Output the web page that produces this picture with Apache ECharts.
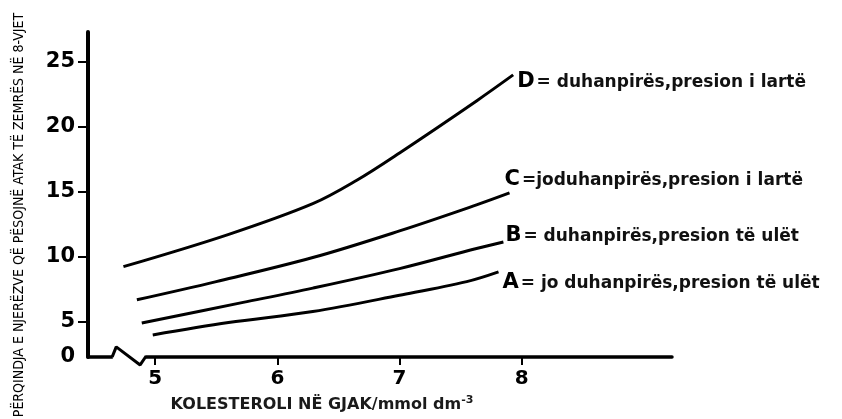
<!DOCTYPE html>
<html>
<head>
<meta charset="utf-8">
<title>Kolesteroli dhe ataku i zemrës</title>
<script src="https://cdn.jsdelivr.net/npm/echarts@6/dist/echarts.min.js"></script>
<style>
    html, body { margin: 0; padding: 0; background: #fff; }
    #main { width: 842px; height: 419px; }
</style>
</head>
<body>
<div id="main"></div>
<script>
// kurbat, lexuar nga figura (kolesteroli mmol dm-3, përqindja)
var dX = [4.74, 5.59, 6.29, 6.65, 7.0, 7.63, 7.93];
var dY = [9.25, 11.7, 14.1, 15.9, 18.0, 22.0, 24.0];
var cX = [4.85, 5.5, 6.29, 7.0, 7.63, 7.90];
var cY = [6.7, 8.1, 9.95, 12.0, 14.0, 14.92];
var bX = [4.89, 5.72, 6.29, 7.0, 7.63, 7.85];
var bY = [4.92, 6.5, 7.6, 9.1, 10.65, 11.15];
var aX = [4.98, 5.6, 6.29, 7.0, 7.55, 7.81];
var aY = [4.0, 4.95, 5.8, 7.05, 8.1, 8.85];

var letters = ["D", "C", "B", "A"];
var labels = ["= duhanpirës,presion i lartë", "=joduhanpirës,presion i lartë",
              "= duhanpirës,presion të ulët", "= jo duhanpirës,presion të ulët"];

var xTicks = [5, 6, 7, 8];
var yTicks = [5, 10, 15, 20, 25];
var yZero = 2.3;   // boshti i thyer: "0" vendoset në fund të boshtit

// shenja e thyerjes në boshtin x
var breakX = [4.648, 4.681, 4.877, 4.926];
var breakY = [2.31, 3.08, 1.69, 2.38];

var yTitle = "PËRQINDJA E NJERËZVE QË PËSOJNË ATAK TË ZEMRËS NË 8-VJET";

function pairs(xs, ys) {
    var out = [];
    for (var i = 0; i < xs.length; i++)
        out.push([xs[i], ys[i]]);
    return out;
}

function curve(xs, ys, idx, offset) {
    return {
        type: 'line',
        data: pairs(xs, ys),
        smooth: 0.35,
        symbol: 'none',
        lineStyle: { color: '#000', width: 3 },
        endLabel: {
            show: true,
            distance: 0,
            offset: offset,
            align: 'left',
            verticalAlign: 'middle',
            formatter: '{big|' + letters[idx] + '}{small|' + labels[idx] + '}',
            rich: {
                big: { fontFamily: 'DejaVu Sans', fontWeight: 'bold', fontSize: 21, color: '#000' },
                small: { fontFamily: 'DejaVu Sans', fontWeight: 'bold', fontSize: 17, color: '#111', padding: [2, 0, 0, 2] }
            }
        }
    };
}

var myChart = echarts.init(document.getElementById('main'));

var option = {
    animation: false,
    grid: { left: 88, right: 170, top: 32, bottom: 62, outerBoundsMode: 'none' },
    xAxis: {
        type: 'value',
        min: 4.45,
        max: 9.23,
        splitLine: { show: false },
        axisLine: { lineStyle: { color: '#000', width: 3.5 } },
        axisTick: { customValues: xTicks, length: 8, lineStyle: { color: '#000', width: 2 } },
        axisLabel: {
            customValues: xTicks,
            margin: 12,
            color: '#000',
            fontFamily: 'DejaVu Sans',
            fontWeight: 'bold',
            fontSize: 20
        },
        name: '{t|KOLESTEROLI NË GJAK/mmol dm}{s|-3}',
        nameLocation: 'middle',
        nameGap: 38,
        nameTextStyle: {
            padding: [0, 116, 0, 0],
            rich: {
                t: { fontFamily: 'DejaVu Sans', fontWeight: 'bold', fontSize: 16, color: '#1a1a1a' },
                s: { fontFamily: 'DejaVu Sans', fontWeight: 'bold', fontSize: 11, color: '#1a1a1a', verticalAlign: 'top', padding: [0, 0, 8, 0] }
            }
        }
    },
    yAxis: {
        type: 'value',
        min: yZero,
        max: 27.3,
        splitLine: { show: false },
        axisLine: { lineStyle: { color: '#000', width: 4 } },
        axisTick: { customValues: yTicks, length: 10, lineStyle: { color: '#000', width: 2 } },
        axisLabel: {
            customValues: [yZero].concat(yTicks),
            margin: 13,
            color: '#000',
            fontFamily: 'DejaVu Sans',
            fontWeight: 'bold',
            fontSize: 21,
            formatter: function (v) { return v < 3 ? '0' : String(v); }
        }
    },
    // titulli vertikal i boshtit y
    graphic: [{
        type: 'text',
        x: 19,
        y: 215,
        rotation: Math.PI / 2,
        style: {
            text: yTitle,
            fontFamily: "'Liberation Sans Narrow', 'DejaVu Sans Condensed', sans-serif",
            fontSize: 14,
            fill: '#000',
            align: 'center',
            verticalAlign: 'middle'
        }
    }],
    series: [
        curve(dX, dY, 0, [4, 7]),
        curve(cX, cY, 1, [-5, -13]),
        curve(bX, bY, 2, [2, -6]),
        curve(aX, aY, 3, [4, 11]),
        {
            // fshin boshtin nën shenjën e thyerjes
            type: 'line',
            data: [[breakX[0] + 0.005, yZero], [breakX[3] - 0.005, yZero]],
            symbol: 'none',
            silent: true,
            z: 3,
            lineStyle: { color: '#fff', width: 6 }
        },
        {
            type: 'line',
            data: pairs(breakX, breakY),
            symbol: 'none',
            clip: false,
            silent: true,
            z: 4,
            lineStyle: { color: '#000', width: 3 }
        }
    ]
};

myChart.setOption(option);
</script>
</body>
</html>
